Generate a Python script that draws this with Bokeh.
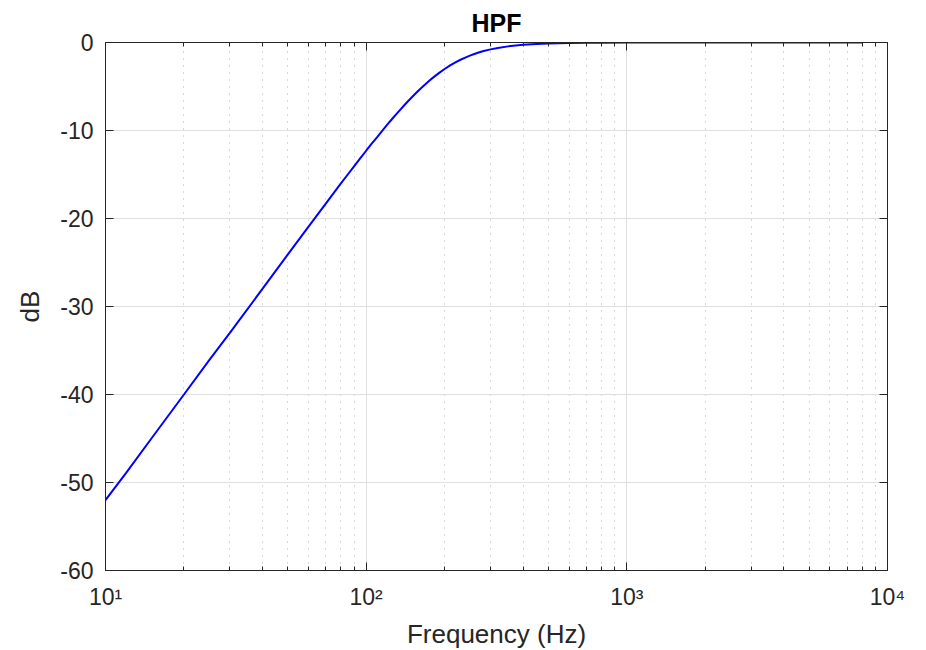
from bokeh.plotting import figure
from bokeh.models import (Range1d, FixedTicker, LogAxis, LinearAxis,
                          CustomJSTickFormatter, ColumnDataSource)
from bokeh.embed import file_html
from bokeh.resources import INLINE

# ---- data ----
freq_hz = [10, 12, 15, 20, 25, 30, 40, 50, 60, 70, 80, 85, 90, 95, 100, 105,
           110, 115, 120, 125, 130, 135, 140, 145, 150, 155, 160, 165, 170,
           175, 180, 190, 200, 210, 220, 230, 240, 250, 260, 270, 280, 300,
           320, 350, 375, 400, 450, 500, 600, 700, 800, 1000, 2000, 4000, 8000]
gain_db = [-52.0, -48.9, -45.0, -40.0, -36.1, -33.0, -28.0, -24.1, -20.95,
           -18.3, -16.0, -15.0, -14.05, -13.15, -12.3, -11.5, -10.77, -10.06,
           -9.4, -8.78, -8.2, -7.65, -7.13, -6.65, -6.19, -5.77, -5.37, -5.0,
           -4.65, -4.32, -4.02, -3.48, -3.01, -2.61, -2.26, -1.96, -1.71,
           -1.49, -1.30, -1.14, -1.0, -0.78, -0.62, -0.44, -0.34, -0.26,
           -0.17, -0.11, -0.05, -0.03, -0.02, -0.01, 0.0, 0.0, 0.0]

x_major = [10, 100, 1000, 10000]
x_labels = ["10\u00b9", "10\u00b2", "10\u00b3", "10\u2074"]
x_minor = [m * 10 ** d for d in (1, 2, 3) for m in range(2, 10)]
y_major = [-60, -50, -40, -30, -20, -10, 0]
y_labels = ["-60", "-50", "-40", "-30", "-20", "-10", "0"]

FONT = "Liberation Sans"
TXT = "#262626"
AX = "#262626"

p = figure(width=910, height=642, frame_width=782, frame_height=528,
           x_axis_type="log", x_range=Range1d(10, 10000), y_range=Range1d(-60, 0),
           output_backend="svg", toolbar_location=None,
           min_border_left=105, min_border_right=20, min_border_top=42,
           min_border_bottom=10)
p.background_fill_color = "white"
p.border_fill_color = "white"
p.outline_line_color = AX
p.outline_line_width = 1

p.title.text = "HPF"
p.title.align = "center"
p.title.text_font = FONT
p.title.text_font_size = "25px"
p.title.text_font_style = "bold"
p.title.text_color = "#000000"
p.title.standoff = 12

src = ColumnDataSource(dict(f=freq_hz, db=gain_db))
p.line("f", "db", source=src, line_color="#0000ff", line_width=2)

xt = FixedTicker(ticks=x_major, minor_ticks=x_minor)
yt = FixedTicker(ticks=y_major, minor_ticks=[])
blank = CustomJSTickFormatter(code="return ''")

def style(ax):
    ax.axis_line_color = AX
    ax.major_tick_line_color = AX
    ax.minor_tick_line_color = AX
    ax.major_tick_in = 8
    ax.major_tick_out = 0
    ax.minor_tick_in = 4
    ax.minor_tick_out = 0
    ax.major_label_text_font = FONT
    ax.major_label_text_font_size = "23px"
    ax.major_label_text_color = TXT
    ax.axis_label_text_font = FONT
    ax.axis_label_text_font_size = "26px"
    ax.axis_label_text_font_style = "normal"
    ax.axis_label_text_color = TXT

xa = p.xaxis[0]
xa.ticker = xt
style(xa)
xa.major_label_overrides = dict(zip(x_major, x_labels))
xa.major_label_standoff = 13
xa.axis_label = "Frequency (Hz)"
xa.axis_label_standoff = 6

ya = p.yaxis[0]
ya.ticker = yt
style(ya)
ya.minor_tick_in = 0
ya.major_label_overrides = dict(zip(y_major, y_labels))
ya.major_label_standoff = 12
ya.axis_label = "dB"
ya.axis_label_standoff = 12

top = LogAxis(ticker=xt, formatter=blank)
style(top)
top.major_label_standoff = 0
p.add_layout(top, "above")

right = LinearAxis(ticker=yt, formatter=blank)
style(right)
right.minor_tick_in = 0
right.major_label_standoff = 0
p.add_layout(right, "right")

p.xgrid.ticker = xt
p.ygrid.ticker = yt
p.xgrid.grid_line_color = "#dfdfdf"
p.ygrid.grid_line_color = "#dfdfdf"
p.xgrid.minor_grid_line_color = "#b0b0b0"
p.xgrid.minor_grid_line_dash = "1 6"
p.ygrid.minor_grid_line_color = None

open("out.html", "w").write(file_html(p, INLINE))
